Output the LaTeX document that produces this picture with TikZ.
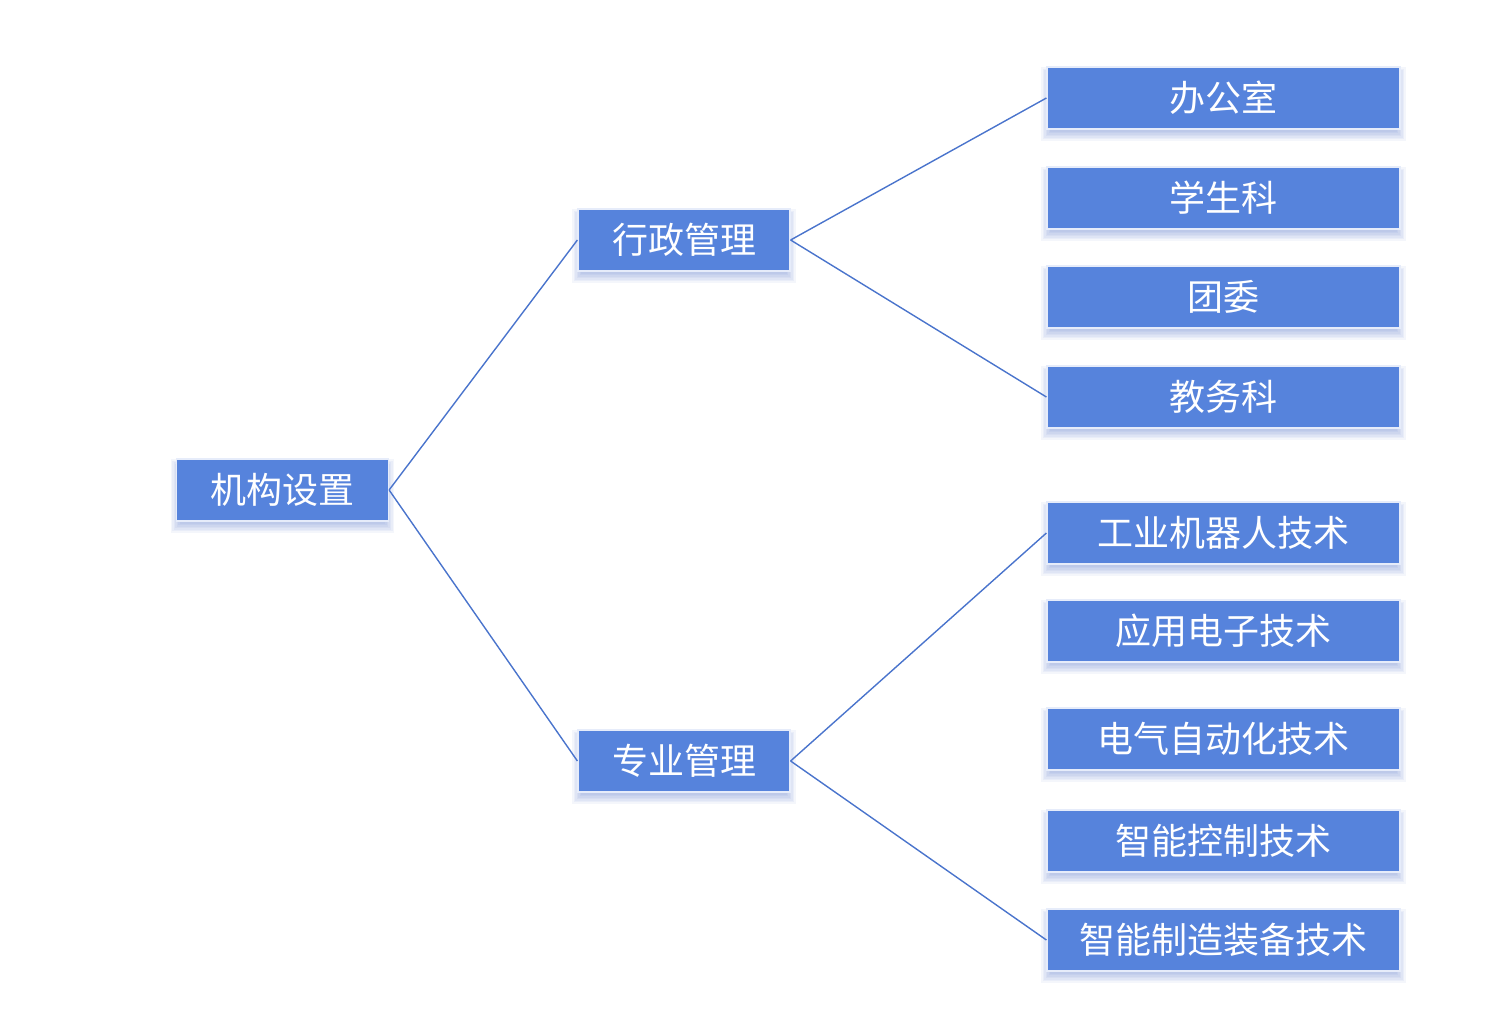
\documentclass[tikz,border=0pt]{standalone}
\usepackage{fontspec}
\newfontfamily\cjk{Noto Sans CJK SC}
\usetikzlibrary{calc,backgrounds}
\definecolor{boxblue}{HTML}{5683DC}
\definecolor{shadowblue}{HTML}{3F63C0}
\definecolor{linkblue}{HTML}{4A74CC}
\begin{document}
\begin{tikzpicture}[x=1pt,y=-1pt,
  box/.style={draw=white!85!boxblue,line width=1.2pt,fill=boxblue,text=white,
    font=\cjk\fontsize{36}{42}\selectfont,inner sep=0pt,anchor=center},
  lbox/.style={box,minimum width=212pt,minimum height=62pt},
  rbox/.style={box,minimum width=353pt,minimum height=62pt},
  shadowlayer/.style={fill=shadowblue,opacity=0.06},
  link/.style={draw=linkblue,line width=1.4pt}]
\useasboundingbox (0,0) rectangle (1488,1025);
\node[lbox] (root) at (282.5,490) {机构设置};
\node[lbox] (admin) at (684,240) {行政管理};
\node[lbox] (major) at (684,761) {专业管理};
\node[rbox] (r1) at (1223.5,98) {办公室};
\node[rbox] (r2) at (1223.5,198) {学生科};
\node[rbox] (r3) at (1223.5,297) {团委};
\node[rbox] (r4) at (1223.5,397) {教务科};
\node[rbox] (r5) at (1223.5,533) {工业机器人技术};
\node[rbox] (r6) at (1223.5,631) {应用电子技术};
\node[rbox] (r7) at (1223.5,739) {电气自动化技术};
\node[rbox] (r8) at (1223.5,841) {智能控制技术};
\node[rbox] (r9) at (1223.5,940) {智能制造装备技术};
\begin{scope}[on background layer]
\foreach \n in {root,admin,major,r1,r2,r3,r4,r5,r6,r7,r8,r9}{
  \foreach \d in {-4,-2.5,...,5.5}{
    \fill[shadowlayer] ($(\n.north west)+(-\d,6-\d)$) rectangle ($(\n.south east)+(\d,6+\d)$);
  }
}
\end{scope}
\draw[link] (root.east) -- (admin.west);
\draw[link] (root.east) -- (major.west);
\draw[link] (admin.east) -- (r1.west);
\draw[link] (admin.east) -- (r4.west);
\draw[link] (major.east) -- (r5.west);
\draw[link] (major.east) -- (r9.west);
\end{tikzpicture}
\end{document}
